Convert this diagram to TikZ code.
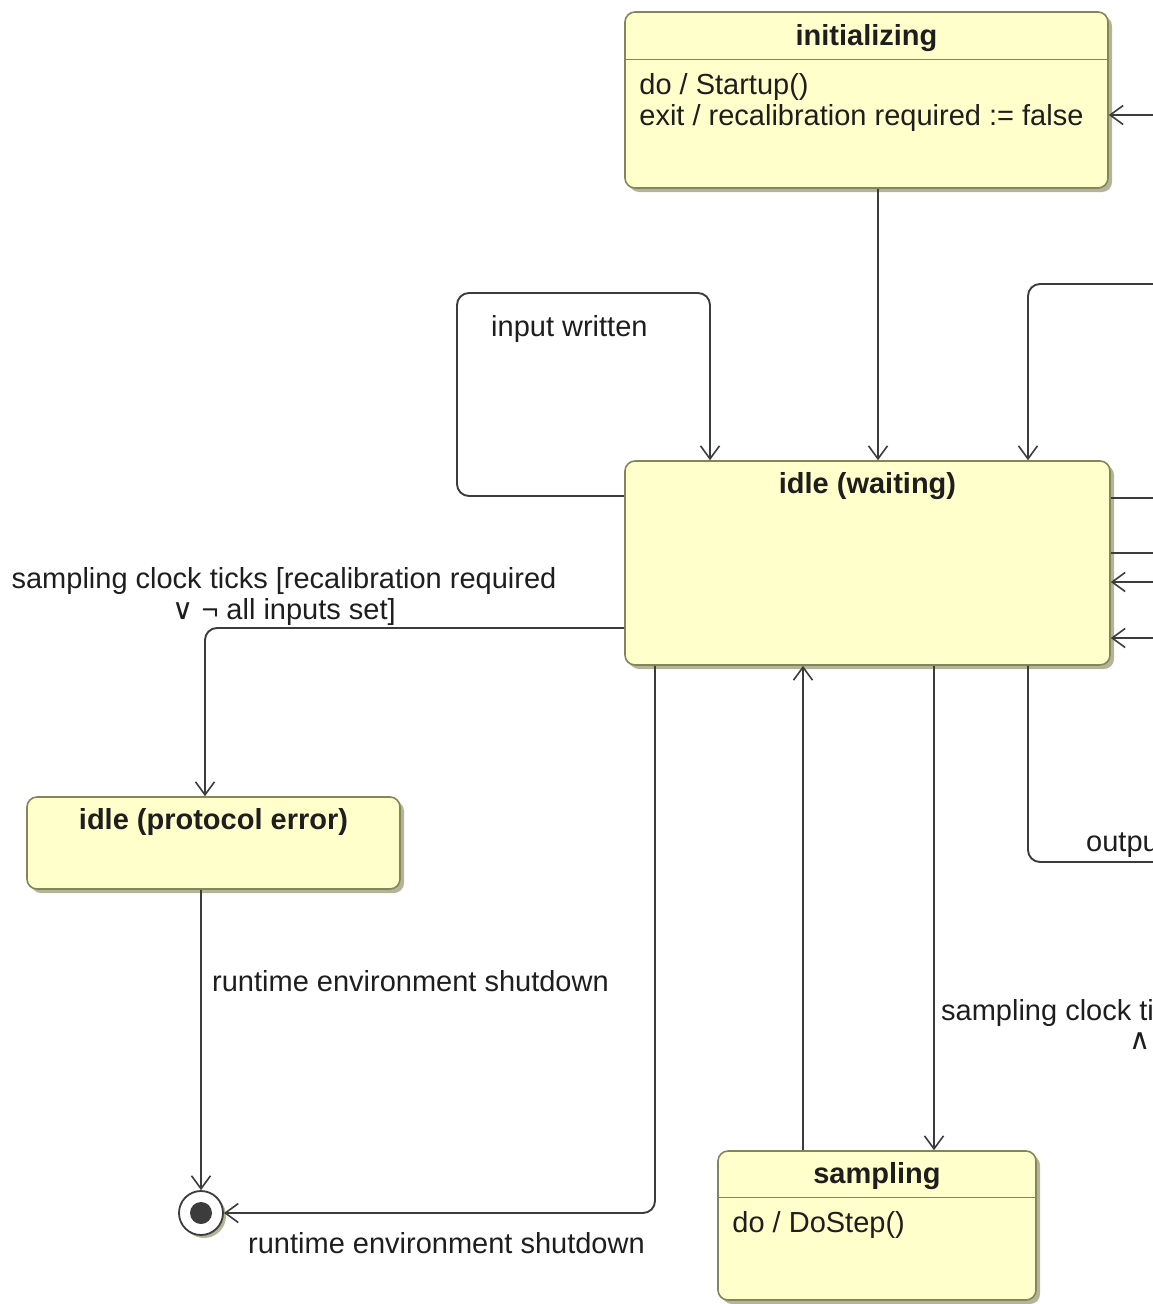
\documentclass[tikz,border=0pt]{standalone}
\usepackage{fontspec}
\setmainfont{Liberation Sans}
\newfontfamily\symfont{DejaVu Sans}
\usetikzlibrary{arrows.meta,positioning,shadows,calc}
\definecolor{stfill}{HTML}{FFFFCC}
\definecolor{stborder}{HTML}{85855C}
\definecolor{stshadow}{HTML}{B4B49A}
\definecolor{stink}{HTML}{3C3C3C}
\definecolor{sttext}{HTML}{1E1E1E}

\begin{document}
\begin{tikzpicture}[
  x=1pt, y=-1pt,
  font=\fontsize{29}{31}\selectfont,
  text=sttext,
  state/.style={draw=stborder, fill=stfill, rounded corners=10pt, line width=1.6pt,
    inner sep=0pt, drop shadow={shadow xshift=4pt, shadow yshift=-4pt, fill=stshadow, opacity=1}},
  title/.style={font=\fontsize{29}{31}\selectfont\bfseries, inner sep=0pt},
  body/.style={align=left, anchor=west, inner sep=0pt},
  lbl/.style={inner sep=0pt, anchor=west},
  sep/.style={draw=stborder, line width=1.4pt},
  trans/.style={-{Straight Barb[length=13pt, width=19pt, line width=1.6pt]},
    line width=1.9pt, draw=stink, rounded corners=12pt},
  plain/.style={line width=1.9pt, draw=stink, rounded corners=12pt}
]
\useasboundingbox (0,0) rectangle (1153,1304);
\clip (0,0) rectangle (1153,1304);

% states
\node[state, minimum width=483pt, minimum height=176pt] (init) at (866.5,100) {};
\node[title] (initT) at ([yshift=-27pt]init.north) {initializing};
\draw[sep] ([yshift=-48pt]init.north west) -- ([yshift=-48pt]init.north east);
\node[body] (initB) at ([xshift=15pt, yshift=-91.5pt]init.north west)
  {do / Startup()\\exit / recalibration required := false};

\node[state, minimum width=485pt, minimum height=204pt] (idle) at (867.5,563) {};
\node[title] (idleT) at ([yshift=-26pt]idle.north) {idle (waiting)};

\node[state, minimum width=373pt, minimum height=92pt] (err) at (213.5,843) {};
\node[title] (errT) at ([yshift=-26pt]err.north) {idle (protocol error)};

\node[state, minimum width=318pt, minimum height=149pt] (samp) at (877,1225.5) {};
\node[title] (sampT) at ([yshift=-26pt]samp.north) {sampling};
\draw[sep] ([yshift=-47pt]samp.north west) -- ([yshift=-47pt]samp.north east);
\node[body] (sampB) at ([xshift=15pt, yshift=-75pt]samp.north west) {do / DoStep()};

\node[circle, draw=stink, fill=white, line width=1.8pt, minimum size=44pt, inner sep=0pt,
  drop shadow={shadow xshift=3pt, shadow yshift=-3pt, fill=stshadow, opacity=1}] (final) at (201,1213) {};
\node[circle, fill=stink, minimum size=22pt, inner sep=0pt] (finalDot) at (final.center) {};

% free ends at the right border
\coordinate (rinit) at (1153,115);
\coordinate (rloop) at (1153,284);
\coordinate (rout1) at (1153,498);
\coordinate (rout2) at (1153,553);
\coordinate (rin1) at (1153,582);
\coordinate (rin2) at (1153,638);
\coordinate (rdown) at (1153,862);

% transitions
\draw[trans] (rinit) -- (rinit -| init.east);
\draw[trans] ([xshift=11.5pt]init.south) -- ([xshift=11.5pt]init.south |- idle.north);
\draw[trans] ([yshift=67pt]idle.west) -| (457,293) -| ([xshift=-157.5pt]idle.north);
\node[lbl] (inLbl) at (491,329) {input written};
\draw[trans] (rloop) -| ([xshift=160.5pt]idle.north);
\draw[plain] (idle.east |- rout1) -- (rout1);
\draw[plain] (idle.east |- rout2) -- (rout2);
\draw[trans] (rin1) -- (rin1 -| idle.east);
\draw[trans] (rin2) -- (rin2 -| idle.east);

\draw[trans] ([yshift=-65pt]idle.west) -| ([xshift=-8.5pt]err.north);
\node[align=center, inner sep=0pt] (errLbl) at (284,596)
  {sampling clock ticks [recalibration required\\{\symfont ∨} ¬ all inputs set]};

\draw[trans] ([xshift=-12.5pt]err.south) -- (final.north);
\node[lbl] (shutLbl1) at (212,981) {runtime environment shutdown};
\draw[trans] ([xshift=-212.5pt]idle.south) |- (final.east);
\node[lbl] (shutLbl2) at (248,1243) {runtime environment shutdown};

\draw[trans] ([xshift=-74pt]samp.north) -- ([xshift=-74pt]samp.north |- idle.south);
\draw[trans] ([xshift=57pt]samp.north |- idle.south) -- ([xshift=57pt]samp.north);
\node[lbl] (tickLbl) at (941,1013) {sampling clock ti};
\node[lbl] (tickLbl2) at (1129,1041) {\symfont ∧};

\draw[plain] ([xshift=160.5pt]idle.south) |- (rdown);
\node[lbl] (outLbl) at (1086,845) {outpu};
\end{tikzpicture}
\end{document}
